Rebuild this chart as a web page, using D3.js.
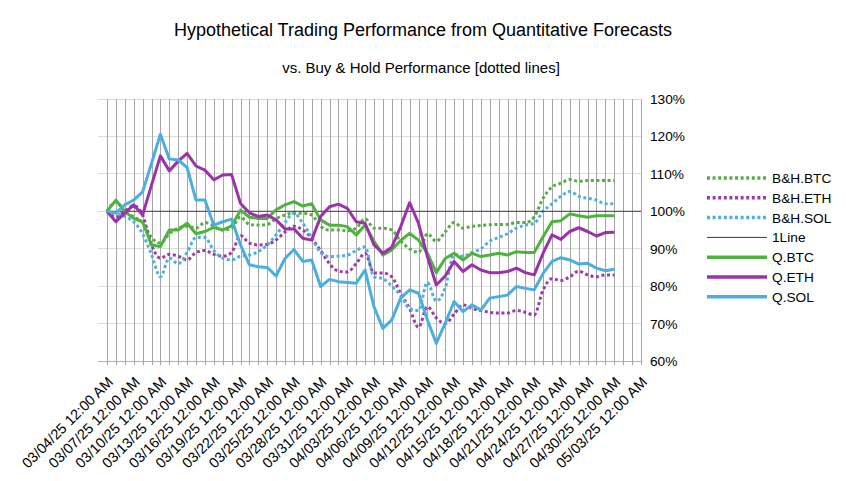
<!DOCTYPE html>
<html>
<head>
<meta charset="utf-8">
<script src="https://cdn.jsdelivr.net/npm/d3@7"></script>
<style>
  html, body { margin: 0; padding: 0; background: #ffffff; }
  svg { display: block; font-family: "Liberation Sans", Arial, sans-serif; }
</style>
</head>
<body>
<svg id="chart" width="846" height="481"></svg>
<script>
// ---------- DATA ----------
const titleText = "Hypothetical Trading Performance from Quantitative Forecasts";
const subtitleText = "vs. Buy & Hold Performance [dotted lines]";
const startDate = "2025-03-04";
const axisEndDate = "2025-05-03";
const tickStepDays = 3;
const yTicks = [0.6, 0.7, 0.8, 0.9, 1.0, 1.1, 1.2, 1.3];

// values in percent, one per day starting 03/04/25
const bhBTC = [100,102.5,100,98.5,97,93,91.5,94,95.5,96,95.5,97,96,95,95.5,98.5,96.5,96.3,96.5,98,99,99.5,99.5,99,96,95,95,94.8,95.5,98,
               95.5,95.5,95,92,90,89,94,92,94.5,97,95.5,96,96.2,96.4,96.5,96.5,97,97,98.5,103.5,106.5,107.5,108.5,108,108.2,108.2,108.2,108.2];
const bhETH = [100,98.5,100,101.5,99,91,87.5,88.5,88,87,89,89.5,88.5,88,89,93.5,91.5,91,91.2,92.3,94.5,96,95,92.8,89.5,86,84,83.8,86,88.8,
               83.5,83.5,82.5,78,74,69,74.5,71.5,70,72.5,75,74,73.5,73,72.8,72.8,73.5,73,72.3,79,82,81.5,82.5,84,83,82.5,83,83];
const bhSOL = [100,99.5,98.6,97.2,94,88.5,82.5,87.5,86,89,93,93,89.5,87.5,87,88,88.3,89.2,91,93.7,97,99.5,96.8,93,89,87.9,88,88.3,89.5,90.5,
               82.5,82,80,77.5,74,73.5,81,76,79.5,88.5,88,89,90,92,93,94,95.5,96.3,96.8,100,102,104,105.3,104,103.5,103,102,102];
const oneLine = 100;
const qBTC = [100,103,99.9,98.1,97.2,91,90.6,95,95,96.8,94,94.6,95.7,95,96.1,100.3,98.4,98.1,98.1,100.4,101.7,102.6,101.4,102,97.7,96.3,96.3,95.9,93.7,96.3,
              92,88.3,89.7,92.2,94.1,92.3,88.8,83.6,87.4,88.8,87,88.8,87.9,88.3,88.8,88.3,89.2,89,89,93.2,97.2,97.5,99.3,98.8,98.4,98.8,98.8,98.8];
const qETH = [100,97.2,99.5,101.7,99,107,114.8,110.8,113.4,115.5,112.1,111,108.4,109.7,109.8,102.1,99.6,98.6,99,97.7,95.3,95.3,92.8,92.3,98.6,101.2,101.9,100.8,97.2,96.8,
              91,88.8,90.4,95.9,102.3,96.8,87.9,80.3,82.7,86.6,83.9,85.7,84.3,83.6,83.6,83.9,84.8,83.6,83,88.8,93.7,92.5,94.6,95.6,94.6,93.4,94.3,94.4];
const qSOL = [100,99.5,101.7,103,105.2,112.8,120.6,114,113.7,111.7,103,103,96.3,97.2,97.9,91,85.7,85.2,85,82.7,87.4,89.8,86.6,87,79.9,81.8,81.2,81,80.8,84.3,
              74.5,68.7,71,76.8,79,78.1,71,64.7,70.1,75.9,73.2,75,73.6,76.8,77.2,77.6,79.9,79.4,79,83.4,86.6,87.6,87,85.9,86.1,84.8,84.1,84.5];

const seriesNames = ["B&H.BTC","B&H.ETH","B&H.SOL","1Line","Q.BTC","Q.ETH","Q.SOL"];
const seriesValues = [bhBTC, bhETH, bhSOL, null, qBTC, qETH, qSOL];
const seriesColors = ["#55ad44","#9c3aae","#4fb0dc","#3a3a3a","#4db33d","#9b32aa","#4aaee0"];
const seriesDotted = [true,true,true,false,false,false,false];
const seriesWidth = [3,3,3,1,3,3,3];

// ---------- LAYOUT ----------
const svg = d3.select("#chart");
const plot = { left: 98, right: 641, top: 99, bottom: 361 };
const parse = d3.utcParse("%Y-%m-%d");
const d0 = parse(startDate), dEnd = parse(axisEndDate);
const allDays = d3.utcDay.range(d0, d3.utcDay.offset(dEnd, 1));
const dataDays = allDays.slice(0, qBTC.length);

const x = d3.scaleUtc().domain([d0, dEnd]).range([107, 641]);
const y = d3.scaleLinear().domain([0.6, 1.3]).range([plot.bottom, plot.top]);

// horizontal gridlines
svg.append("g").selectAll("line").data(yTicks).join("line")
  .attr("x1", plot.left).attr("x2", plot.right)
  .attr("y1", d => y(d)).attr("y2", d => y(d))
  .attr("stroke", d => d === 0.6 ? "#b3b3b3" : "#dddddd").attr("stroke-width", 1)
  .attr("shape-rendering", "crispEdges");

// vertical gridlines (daily) + ticks below axis
svg.append("g").selectAll("line").data(allDays).join("line")
  .attr("x1", d => Math.round(x(d)) + 0.5).attr("x2", d => Math.round(x(d)) + 0.5)
  .attr("y1", plot.top).attr("y2", plot.bottom + 4)
  .attr("stroke", "#a6a6a6").attr("stroke-width", 1);

// y axis labels on right
svg.append("g").selectAll("text").data(yTicks).join("text")
  .attr("x", 650).attr("y", d => y(d)).attr("dy", "0.36em")
  .attr("font-size", "13.7px").attr("fill", "#000")
  .text(d => d3.format(".0%")(d));

// x axis labels
const fmt = d3.utcFormat("%m/%d/%y %I:%M %p");
const labelDays = allDays.filter((d, i) => i % tickStepDays === 0);
svg.append("g").selectAll("text").data(labelDays).join("text")
  .attr("transform", d => `translate(${x(d) + 7},${plot.bottom + 22}) rotate(-45)`)
  .attr("text-anchor", "end")
  .attr("font-size", "14.5px").attr("fill", "#000")
  .text(d => fmt(d));

// lines
const lineLin = d3.line().x((v, i) => x(dataDays[i])).y(v => y(v / 100));
const lineSmooth = d3.line().x((v, i) => x(dataDays[i])).y(v => y(v / 100)).curve(d3.curveMonotoneX);

seriesNames.forEach((name, k) => {
  if (name === "1Line") {
    svg.append("line")
      .attr("x1", x(d0)).attr("x2", x(dEnd))
      .attr("y1", y(oneLine / 100)).attr("y2", y(oneLine / 100))
      .attr("stroke", seriesColors[k]).attr("stroke-width", seriesWidth[k]);
    return;
  }
  svg.append("path")
    .attr("d", (seriesDotted[k] ? lineSmooth : lineLin)(seriesValues[k]))
    .attr("fill", "none")
    .attr("stroke", seriesColors[k])
    .attr("stroke-width", seriesWidth[k])
    .attr("stroke-dasharray", seriesDotted[k] ? "3,2.6" : null)
    .attr("stroke-linejoin", "round");
});

// titles
svg.append("text").attr("x", 423).attr("y", 36).attr("text-anchor", "middle")
  .attr("font-size", "18px").attr("fill", "#000").text(titleText);
svg.append("text").attr("x", 421).attr("y", 73).attr("text-anchor", "middle")
  .attr("font-size", "15px").attr("fill", "#000").text(subtitleText);

// legend
const lg = svg.append("g");
seriesNames.forEach((name, k) => {
  const yy = 178 + k * 19.8;
  lg.append("line").attr("x1", 707).attr("x2", 767).attr("y1", yy).attr("y2", yy)
    .attr("stroke", seriesColors[k])
    .attr("stroke-width", seriesWidth[k] === 1 ? 1 : 3.5)
    .attr("stroke-dasharray", seriesDotted[k] ? "3,2.6" : null);
  lg.append("text").attr("x", 772).attr("y", yy).attr("dy", "0.36em")
    .attr("font-size", "13.7px").attr("fill", "#000").text(name);
});
</script>
</body>
</html>
